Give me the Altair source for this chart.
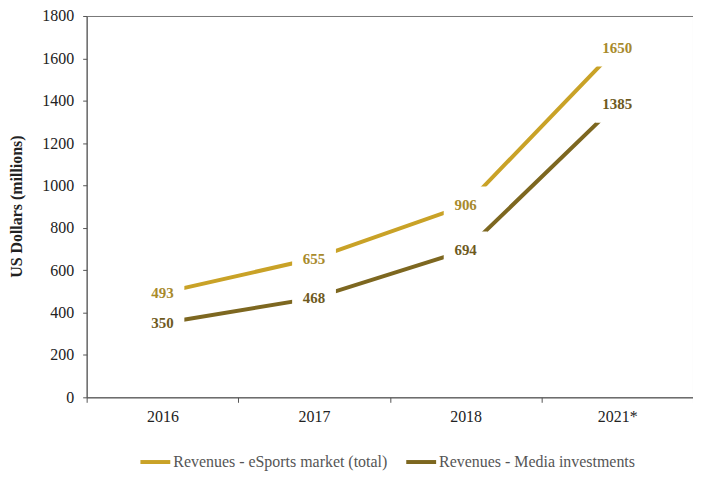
import altair as alt
import pandas as pd

years = ["2016", "2017", "2018", "2021*"]
total = [493, 655, 906, 1650]
media = [350, 468, 694, 1385]
series_names = ["Revenues - eSports market (total)", "Revenues - Media investments"]
line_colors = ["#C9A227", "#7D6720"]
label_colors = ["#A88A2C", "#6E5A1E"]

rows = []
for y, t, m in zip(years, total, media):
    rows.append({"year": y, "value": t, "series": series_names[0]})
    rows.append({"year": y, "value": m, "series": series_names[1]})
df = pd.DataFrame(rows)

serif = "Liberation Serif"

x_enc = alt.X("year:N", sort=years,
              scale=alt.Scale(type="band", paddingInner=0, paddingOuter=0),
              axis=alt.Axis(title=None, labelAngle=0, tickBand="extent", labelFont=serif,
                            labelFontSize=16, labelColor="#222", domainColor="#555",
                            tickColor="#555", tickSize=5, labelPadding=6))
y_enc = alt.Y("value:Q", scale=alt.Scale(domain=[0, 1800]),
              axis=alt.Axis(values=list(range(0, 1801, 200)), format="d", grid=False,
                            title="US Dollars (millions)",
                            titleFont=serif, titleFontSize=16, titleFontWeight="bold", titleColor="#222",
                            titleX=-70, titleY=191, titleAngle=-90, titleAlign="center", titleBaseline="middle",
                            labelFont=serif, labelFontSize=16, labelColor="#222", domainColor="#555",
                            tickColor="#555", tickSize=4, labelPadding=9))

color_enc = alt.Color("series:N", scale=alt.Scale(domain=series_names, range=line_colors),
                      legend=alt.Legend(title=None, orient="none", legendX=52, legendY=431,
                                        direction="horizontal", symbolType="stroke",
                                        symbolSize=900, symbolStrokeWidth=4, labelFont=serif,
                                        labelFontSize=16, labelColor="#555", labelOffset=1,
                                        columnPadding=10, labelLimit=400))

base = alt.Chart(df)
lines = base.mark_line(strokeWidth=4).encode(x=x_enc, y=y_enc, color=color_enc)
boxes = base.mark_point(shape="M-1,-0.86L1,-0.86L1,0.86L-1,0.86Z", filled=True, fill="white",
                        opacity=1, size=1936, strokeWidth=0).encode(
    x=alt.X("year:N", sort=years), y="value:Q")
texts = base.mark_text(font=serif, fontSize=15, fontWeight="bold", baseline="middle").encode(
    x=alt.X("year:N", sort=years), y="value:Q",
    text="value:Q",
    color=alt.Color("series:N", scale=alt.Scale(domain=series_names, range=label_colors), legend=None))

chart = alt.layer(lines, boxes, texts).resolve_scale(color="independent").properties(
    width=609, height=383,
    autosize=alt.AutoSizeParams(type="none"),
    padding={"left": 79, "top": 7, "right": 0, "bottom": 78},
).configure_view(stroke="#777", strokeWidth=1)

chart.save("out.html", embed_options={"renderer": "svg", "actions": False})
